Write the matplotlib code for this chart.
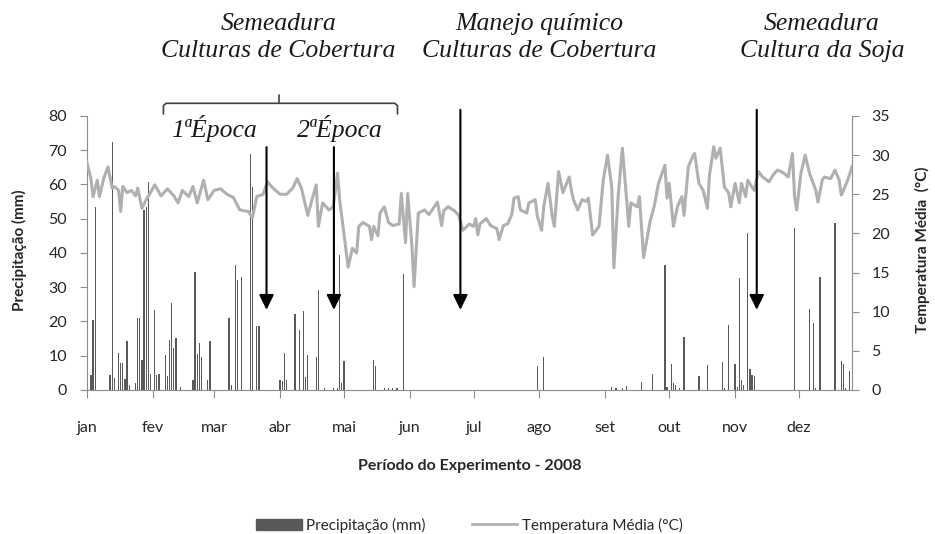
import matplotlib.pyplot as plt
from matplotlib.patches import Patch
from matplotlib.lines import Line2D

# ---- Data (day of year 2008) ---- #

month_labels = ["jan", "fev", "mar", "abr", "mai", "jun",
                "jul", "ago", "set", "out", "nov", "dez"]
month_start = [0, 31, 60, 91, 121, 152, 182, 213, 244, 274, 305, 335]

temp_day = [0, 2, 3, 5, 6, 8, 10, 12, 13, 15, 16, 17, 19, 21, 23, 24, 26, 28,
            30, 32, 35, 38, 41, 43, 45, 48, 50, 52, 55, 57, 60, 63, 66, 69,
            72, 76, 78, 80, 83, 85, 88, 91, 94, 97, 99, 101, 104, 106, 108,
            109, 111, 114, 116, 118, 119, 121, 123, 125, 127, 128, 130, 133,
            134, 135, 137, 138, 140, 142, 144, 147, 148, 150, 151, 153, 154,
            156, 159, 161, 163, 165, 167, 168, 170, 173, 175, 177, 180, 182,
            183, 184, 185, 188, 190, 193, 194, 196, 198, 200, 201, 203, 204,
            207, 208, 211, 212, 214, 215, 217, 219, 220, 222, 224, 227, 228,
            229, 231, 233, 235, 236, 238, 241, 243, 245, 247, 248, 250, 252,
            255, 256, 259, 260, 262, 265, 267, 269, 272, 273, 274, 276, 278,
            280, 281, 283, 285, 286, 288, 290, 292, 293, 295, 296, 298, 300,
            302, 303, 305, 307, 308, 310, 311, 313, 314, 316, 318, 321, 323,
            325, 328, 330, 332, 333, 334, 336, 338, 340, 343, 344, 346, 347,
            350, 352, 354, 355, 358, 360]
temp_c = [29.2, 27.0, 24.7, 26.8, 24.7, 27.0, 28.5, 25.8, 26.0, 25.5, 22.8,
          26.0, 25.2, 25.5, 24.8, 25.8, 23.2, 24.3, 25.2, 26.2, 24.8, 25.7,
          24.8, 23.9, 25.5, 24.7, 26.0, 23.9, 26.8, 24.3, 25.5, 25.7, 25.0,
          24.6, 23.0, 22.8, 22.0, 24.7, 25.0, 26.6, 25.7, 25.0, 25.0, 25.8,
          27.0, 25.8, 22.3, 24.3, 26.2, 20.9, 23.9, 23.0, 23.4, 27.7, 24.3,
          20.0, 15.7, 18.1, 17.5, 20.9, 21.4, 20.9, 19.2, 20.9, 19.7, 22.6,
          23.4, 21.4, 21.0, 21.2, 25.1, 18.8, 25.1, 18.4, 13.2, 22.6, 23.0,
          22.4, 23.2, 24.0, 21.0, 22.9, 23.4, 22.9, 22.3, 20.4, 21.2, 20.9,
          21.9, 19.8, 21.2, 21.9, 21.0, 20.6, 19.2, 21.0, 21.2, 22.4, 24.5,
          24.7, 23.0, 22.6, 23.9, 24.3, 22.2, 20.4, 23.4, 26.4, 22.2, 20.9,
          27.9, 25.2, 27.2, 25.5, 24.3, 23.0, 24.3, 24.1, 24.5, 19.8, 20.9,
          26.8, 30.0, 25.9, 15.6, 24.7, 30.9, 20.9, 23.9, 23.4, 24.7, 16.9,
          21.5, 23.5, 26.4, 28.7, 24.5, 26.4, 20.9, 23.5, 24.7, 22.3, 28.5,
          29.8, 30.2, 26.4, 25.5, 23.2, 27.5, 31.1, 29.6, 30.9, 25.9, 25.2,
          23.4, 26.4, 23.9, 26.4, 24.7, 26.8, 25.9, 25.5, 27.9, 27.2, 26.6,
          27.5, 28.1, 27.7, 27.2, 30.2, 24.7, 23.0, 27.7, 30.0, 27.7, 25.5,
          24.0, 26.8, 27.2, 27.0, 28.1, 26.8, 24.9, 26.8, 28.5]

rain_day = [2, 3, 4, 11, 12, 13, 15, 16, 17, 18, 19, 20, 23, 24, 25, 26, 27,
            28, 29, 30, 32, 33, 34, 37, 38, 39, 40, 41, 42, 44, 50, 51, 52, 53,
            54, 57, 58, 67, 68, 70, 71, 73, 77, 78, 80, 81, 91, 92, 93, 94, 98,
            100, 102, 103, 104, 108, 109, 112, 116, 118, 119, 120, 121, 135,
            136, 140, 142, 144, 146, 149, 212, 215, 247, 249, 252, 254, 261,
            266, 272, 273, 275, 276, 277, 279, 281, 288, 292, 299, 300, 302,
            305, 306, 307, 308, 309, 311, 312, 313, 314, 333, 340, 342, 343,
            345, 352, 355, 356, 357, 359]
rain_mm = [4.4, 20.4, 53.4, 4.4, 72.5, 3.6, 10.9, 8.0, 8.0, 3.3, 14.3, 1.6,
           2.0, 21.0, 21.0, 8.8, 52.6, 53.5, 60.8, 4.8, 23.4, 4.4, 4.8, 10.2,
           4.0, 14.6, 25.3, 12.4, 15.1, 1.0, 3.0, 34.5, 10.4, 13.6, 9.6, 3.0,
           14.3, 21.0, 1.5, 36.5, 32.1, 33.0, 68.9, 59.4, 18.8, 18.8, 3.0, 2.5,
           10.8, 3.0, 22.2, 17.5, 23.1, 3.8, 10.2, 9.6, 29.2, 0.5, 0.5, 0.5,
           39.4, 2.0, 8.6, 8.8, 7.0, 0.5, 0.5, 0.5, 0.5, 33.9, 7.1, 9.7, 1.0,
           0.5, 0.5, 1.3, 2.3, 4.6, 36.5, 0.8, 7.5, 1.9, 1.5, 0.5, 15.6, 4.2,
           7.2, 8.2, 0.5, 19.0, 7.5, 0.8, 32.6, 3.0, 1.5, 45.8, 6.0, 4.5, 4.0,
           47.2, 23.6, 19.5, 0.5, 33.1, 48.7, 8.4, 7.5, 0.5, 5.6]

# sowing 1st / 2nd epoch, chemical management, soybean sowing
event_day = [84.6, 116.3, 175.8, 315.2]

# ---- Figure ---- #

BAR_C = "#595959"
LINE_C = "#b0b0b0"
AX_C = "#8c8c8c"
TXT_C = "#262626"
SANS = ["Lato", "DejaVu Sans"]
SERIF = ["Liberation Serif", "DejaVu Serif"]

plt.rcParams["font.family"] = SANS

fig = plt.figure(figsize=(9.35, 5.34), dpi=100)
ax = fig.add_axes([0.0927, 0.2697, 0.8185, 0.5131])
ax.bar(rain_day, rain_mm, width=0.6, color=BAR_C, zorder=2)
ax.set_xlim(0, 360)
ax.set_ylim(0, 80)
ax.set_yticks(range(0, 81, 10))
ax.set_xticks(month_start)
ax.set_xticklabels(month_labels)

ax2 = ax.twinx()
ax2.plot(temp_day, temp_c, color=LINE_C, lw=2.2, zorder=3)
ax2.set_ylim(0, 35)
ax2.set_yticks(range(0, 36, 5))

for a in (ax, ax2):
    a.spines["top"].set_visible(False)
    for s in ("left", "right", "bottom"):
        a.spines[s].set_color(AX_C)
ax.spines["right"].set_visible(False)
ax2.spines["left"].set_visible(False)
ax2.spines["bottom"].set_visible(False)

ax.tick_params(axis="y", direction="out", length=5, pad=9, color=AX_C,
               labelcolor=TXT_C, labelsize=11.5)
ax.tick_params(axis="x", direction="out", length=6, pad=16, color=AX_C,
               labelcolor=TXT_C, labelsize=11.5)
ax2.tick_params(axis="y", direction="out", length=5, pad=9, color=AX_C,
                labelcolor=TXT_C, labelsize=11.5)

fig.text(0.021, 0.532, "Precipitação (mm)", rotation=90, ha="center",
         va="center", fontsize=11, fontweight="bold", color=TXT_C)
fig.text(0.987, 0.532, "Temperatura Média  (°C)", rotation=90, ha="center",
         va="center", fontsize=11, fontweight="bold", color=TXT_C)
fig.text(0.502, 1 - 466 / 534, "Período do Experimento - 2008", ha="center",
         va="center", fontsize=11.5, fontweight="bold", color=TXT_C)

# arrows marking the events
arrow_top = [70.9, 70.9, 81.8, 81.8]
for d, top in zip(event_day, arrow_top):
    ax2.annotate("", xy=(d, 23.4), xytext=(d, top), xycoords=ax.transData,
                 textcoords=ax.transData, annotation_clip=False,
                 arrowprops=dict(arrowstyle="-|>,head_length=0.45,head_width=0.22",
                                 color="black", lw=1.5, mutation_scale=20,
                                 shrinkA=0, shrinkB=0))

# brace over the two sowing epochs
b0, b1, bc = event_day[0] - 48.5, event_day[1] + 29.9, 90.4
brace_kw = dict(color="#404040", lw=1.2, clip_on=False, transform=ax.transData,
                solid_capstyle="round", zorder=5)
ax2.plot([b0, b0, b0 + 1.2, b1 - 1.2, b1, b1], [80.6, 83.0, 83.7, 83.7, 83.0, 80.6],
         **brace_kw)
ax2.plot([bc, bc], [83.7, 86.0], **brace_kw)

# annotation texts
txt_kw = dict(ha="center", va="center", fontsize=18.5, style="italic",
              family=SERIF, color="#1a1a1a", linespacing=1.3)
fig.text(0.298, 0.930, "Semeadura\nCulturas de Cobertura", **txt_kw)
fig.text(0.577, 0.930, "Manejo químico\nCulturas de Cobertura", **txt_kw)
fig.text(0.879, 0.930, "Semeadura\nCultura da Soja", **txt_kw)
fig.text(0.229, 0.760, "1ªÉpoca", **txt_kw)
fig.text(0.363, 0.760, "2ªÉpoca", **txt_kw)

handles = [Patch(color=BAR_C), Line2D([], [], color=LINE_C, lw=2)]
fig.legend(handles, ["Precipitação (mm)", "Temperatura Média (°C)"],
           loc="center", bbox_to_anchor=(0.502, 1 - 525 / 534), ncol=2,
           frameon=False, fontsize=11, handlelength=3.0, handleheight=0.7,
           columnspacing=3.0, handletextpad=0.3, labelcolor=TXT_C)

fig.savefig("out.png", dpi=100)
